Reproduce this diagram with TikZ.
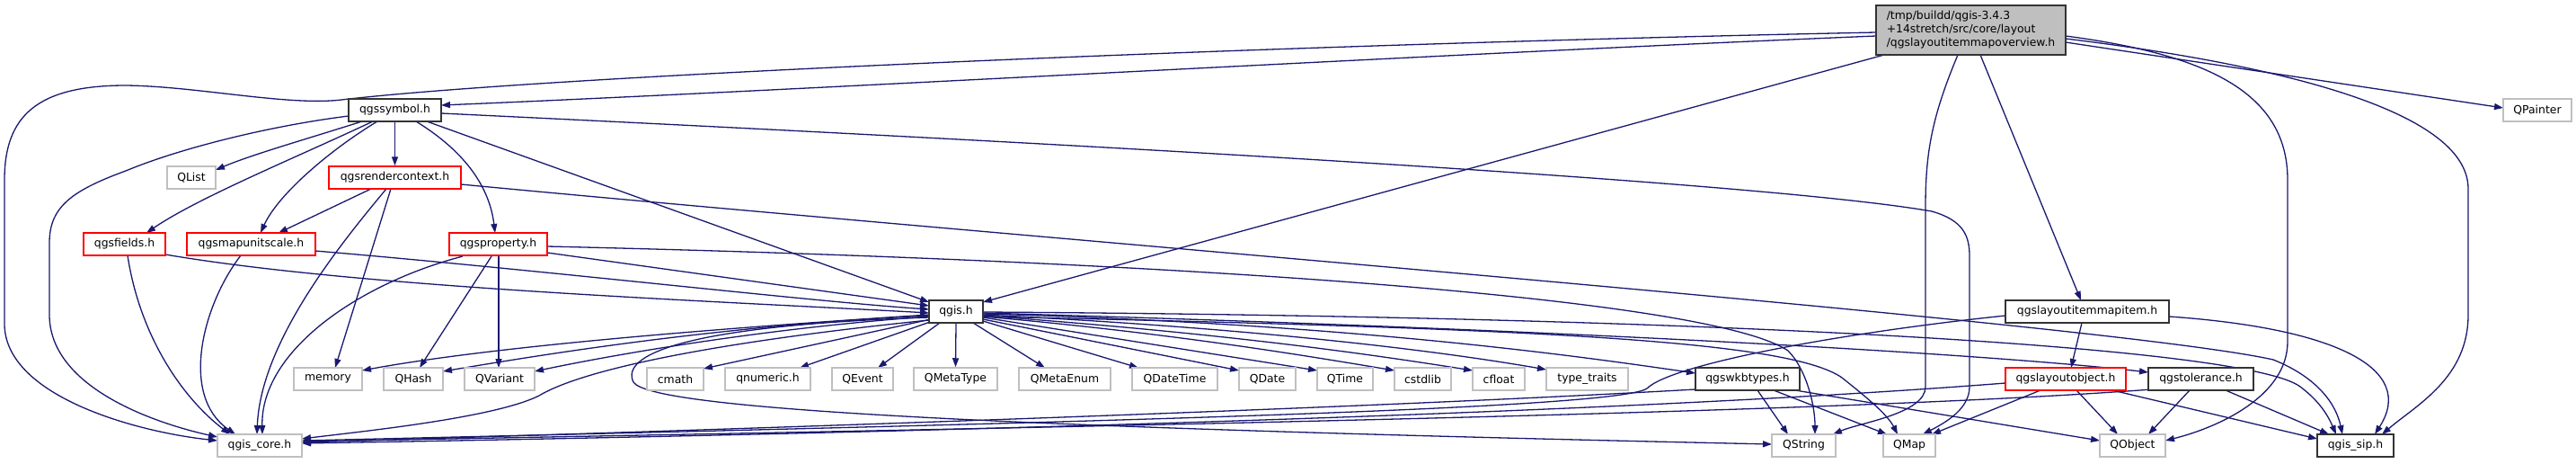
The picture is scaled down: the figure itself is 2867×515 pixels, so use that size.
\documentclass[tikz,border=0pt]{standalone}
\usepackage{fontspec}
\setmainfont{DejaVu Sans}
\usetikzlibrary{arrows.meta,calc,backgrounds}
\definecolor{edgec}{HTML}{191970}
\definecolor{gry}{HTML}{BFBFBF}
\newcommand\nodefont{\fontsize{12.4}{15}\selectfont}
\begin{document}
\begin{tikzpicture}[x=1pt,y=-1pt,
  nd/.style={fill=white, inner sep=0pt, minimum height=25pt, font=\nodefont, text=black},
  doc/.style={nd, draw=black!80, line width=1.8pt},
  ext/.style={nd, draw=gry, line width=1.5pt},
  trunc/.style={nd, draw=red, line width=1.5pt},
  dep/.style={draw=edgec, line width=1.3pt, -{Triangle[length=10pt,width=7pt]}}]
\useasboundingbox (0,0) rectangle (2867,515);
% nodes
\node[nd, draw=black!80, line width=1.8pt, fill=gry, minimum width=211pt, minimum height=55pt, align=left] (main) at (2193.5,33.5) {/tmp/buildd/qgis-3.4.3\\+14stretch/src/core/layout\\/qgslayoutitemmapoverview.h};
\node[ext, minimum width=76pt] (QPainter) at (2824,122.5) {QPainter};
\node[doc, minimum width=103pt] (sym) at (439.5,122.5) {qgssymbol.h};
\node[ext, minimum width=54pt] (QList) at (213,197.5) {QList};
\node[trunc, minimum width=147pt] (rc) at (439.5,197.5) {qgsrendercontext.h};
\node[trunc, minimum width=91pt] (fields) at (138.5,271.5) {qgsfields.h};
\node[trunc, minimum width=143pt] (mus) at (279.5,271.5) {qgsmapunitscale.h};
\node[trunc, minimum width=109pt] (prop) at (554.5,271.5) {qgsproperty.h};
\node[doc, minimum width=60pt] (qgis) at (1064,346.5) {qgis.h};
\node[doc, minimum width=182pt] (lmi) at (2323,346.5) {qgslayoutitemmapitem.h};
\node[ext, minimum width=76pt] (memory) at (365,421.5) {memory};
\node[ext, minimum width=66pt] (QHash) at (460,421.5) {QHash};
\node[ext, minimum width=78pt] (QVariant) at (556,421.5) {QVariant};
\node[ext, minimum width=63pt] (cmath) at (751.5,421.5) {cmath};
\node[ext, minimum width=95pt] (qnumeric) at (854.5,421.5) {qnumeric.h};
\node[ext, minimum width=68pt] (QEvent) at (960,421.5) {QEvent};
\node[ext, minimum width=93pt] (QMetaType) at (1063.5,421.5) {QMetaType};
\node[ext, minimum width=102pt] (QMetaEnum) at (1185,421.5) {QMetaEnum};
\node[ext, minimum width=95pt] (QDateTime) at (1307.5,421.5) {QDateTime};
\node[ext, minimum width=63pt] (QDate) at (1410.5,421.5) {QDate};
\node[ext, minimum width=62pt] (QTime) at (1497,421.5) {QTime};
\node[ext, minimum width=63pt] (cstdlib) at (1583.5,421.5) {cstdlib};
\node[ext, minimum width=58pt] (cfloat) at (1668,421.5) {cfloat};
\node[ext, minimum width=91pt] (tt) at (1766.5,421.5) {type\_traits};
\node[doc, minimum width=116pt] (wkb) at (1945,421.5) {qgswkbtypes.h};
\node[trunc, minimum width=134pt] (lo) at (2299,421.5) {qgslayoutobject.h};
\node[doc, minimum width=117pt] (tol) at (2449.5,421.5) {qgstolerance.h};
\node[ext, minimum width=94pt] (core) at (289,495.5) {qgis\_core.h};
\node[ext, minimum width=71pt] (QString) at (2007.5,495.5) {QString};
\node[ext, minimum width=58pt] (QMap) at (2125,495.5) {QMap};
\node[ext, minimum width=73pt] (QObject) at (2373.5,495.5) {QObject};
\node[doc, minimum width=85pt] (sip) at (2621.5,495.5) {qgis\_sip.h};
% edges
\begin{scope}[on background layer]
\fill[white] (0,0) rectangle (2867,515);
% main
\draw[dep] ($(main)+(-105.5,6.5)$) .. controls (1600,60) and (900,100) .. ($(sym)+(51.5,-5.5)$);
\draw[dep] ($(main)+(-105.5,2.5)$) .. controls (1400,50) and (600,85) .. (380,111) .. controls (320,118) and (220,96) .. (140,95) .. controls (40,95) and (5,130) .. (5,200) -- (5,360) .. controls (5,440) and (150,480) .. ($(core)+(-47,-5.5)$);
\draw[dep] ($(main)+(-96.5,27.5)$) -- ($(qgis)+(30,-10.5)$);
\draw[dep] ($(main)+(10.5,27.5)$) -- ($(lmi)+(-7,-12.5)$);
\draw[dep] ($(main)+(-14.5,27.5)$) .. controls (2150,130) and (2143,170) .. (2143,230) -- (2143,430) .. controls (2143,460) and (2070,470) .. ($(QString)+(32.5,-12.5)$);
\draw[dep] ($(main)+(105.5,6.5)$) .. controls (2450,60) and (2546,100) .. (2546,200) -- (2546,380) .. controls (2546,440) and (2470,475) .. ($(QObject)+(36.5,-5.5)$);
\draw[dep] ($(main)+(105.5,9.5)$) .. controls (2520,70) and (2747,120) .. (2747,210) -- (2747,350) .. controls (2747,420) and (2690,450) .. ($(sip)+(29.5,-12.5)$);
\draw[dep] ($(main)+(105.5,13.5)$) -- ($(QPainter)+(-38,-2.5)$);
% qgssymbol
\draw[dep] ($(sym)+(-36.5,12.5)$) .. controls (340,155) and (280,172) .. ($(QList)+(27,-8.5)$);
\draw[dep] (sym.south) -- (rc.north);
\draw[dep] ($(sym)+(-24.5,12.5)$) .. controls (330,175) and (220,220) .. ($(fields)+(24.5,-12.5)$);
\draw[dep] ($(sym)+(-19.5,12.5)$) .. controls (370,165) and (310,215) .. ($(mus)+(10.5,-12.5)$);
\draw[dep] ($(sym)+(23.5,12.5)$) .. controls (520,170) and (545,210) .. ($(prop)+(-3.5,-12.5)$);
\draw[dep] ($(sym)+(35.5,12.5)$) -- ($(qgis)+(-30,-10.5)$);
\draw[dep] ($(sym)+(-51.5,6.5)$) .. controls (300,140) and (200,165) .. (140,190) .. controls (80,212) and (55,230) .. (55,270) -- (55,350) .. controls (55,430) and (170,470) .. ($(core)+(-47,-9.5)$);
\draw[dep] ($(sym)+(51.5,3.5)$) .. controls (1100,155) and (1950,200) .. (2150,235) .. controls (2185,245) and (2192,262) .. (2192,285) -- (2192,430) .. controls (2192,455) and (2165,470) .. ($(QMap)+(15,-12.5)$);
% qgsrendercontext
\draw[dep] ($(rc)+(-26.5,12.5)$) -- ($(mus)+(30.5,-12.5)$);
\draw[dep] ($(rc)+(-9.5,12.5)$) .. controls (380,270) and (290,380) .. ($(core)+(-3,-12.5)$);
\draw[dep] ($(rc)+(-4.5,12.5)$) -- ($(memory)+(8,-12.5)$);
\draw[dep] ($(rc)+(73.5,7.5)$) .. controls (1200,270) and (2350,360) .. (2530,400) .. controls (2580,420) and (2600,450) .. ($(sip)+(-14.5,-12.5)$);
% qgsfields
\draw[dep] ($(fields)+(3.5,12.5)$) .. controls (155,370) and (200,440) .. ($(core)+(-33,-12.5)$);
\draw[dep] ($(fields)+(45.5,11.5)$) .. controls (400,320) and (800,335) .. ($(qgis)+(-30,1.5)$);
% qgsmapunitscale
\draw[dep] ($(mus)+(-11.5,12.5)$) .. controls (225,340) and (200,440) .. ($(core)+(-27,-12.5)$);
\draw[dep] ($(mus)+(71.5,7.5)$) .. controls (600,300) and (900,335) .. ($(qgis)+(-30,-2.5)$);
% qgsproperty
\draw[dep] ($(prop)+(54.5,9.5)$) -- ($(qgis)+(-30,-6.5)$);
\draw[dep] ($(prop)+(-39.5,13.5)$) .. controls (400,315) and (290,390) .. ($(core)+(3,-12.5)$);
\draw[dep] ($(prop)+(-7.5,13.5)$) -- ($(QHash)+(7,-12.5)$);
\draw[dep] ($(prop)+(0.5,13.5)$) -- ($(QVariant)+(-1,-12.5)$);
\draw[dep] ($(prop)+(54.5,2.5)$) .. controls (1300,290) and (1900,330) .. (1990,390) .. controls (2010,410) and (2020,450) .. ($(QString)+(12.5,-12.5)$);
% qgis.h
\draw[dep] ($(qgis)+(-30,3.5)$) .. controls (800,365) and (550,385) .. ($(memory)+(38,-9.5)$);
\draw[dep] ($(qgis)+(-30,4.5)$) .. controls (800,362) and (600,395) .. ($(QHash)+(33,-8.5)$);
\draw[dep] ($(qgis)+(-30,5.5)$) .. controls (850,365) and (680,395) .. ($(QVariant)+(39,-8.5)$);
\draw[dep] ($(qgis)+(-28,8.5)$) -- ($(cmath)+(31.5,-11.5)$);
\draw[dep] ($(qgis)+(-26,10.5)$) -- ($(qnumeric)+(35.5,-12.5)$);
\draw[dep] ($(qgis)+(-18,12.5)$) -- ($(QEvent)+(17,-12.5)$);
\draw[dep] (qgis.south) -- (QMetaType.north);
\draw[dep] ($(qgis)+(19,12.5)$) -- ($(QMetaEnum)+(-22,-12.5)$);
\draw[dep] ($(qgis)+(30,10.5)$) -- ($(QDateTime)+(-40.5,-12.5)$);
\draw[dep] ($(qgis)+(30,8.5)$) -- ($(QDate)+(-31.5,-9.5)$);
\draw[dep] ($(qgis)+(30,6.5)$) -- ($(QTime)+(-31,-9.5)$);
\draw[dep] ($(qgis)+(30,5.5)$) .. controls (1300,370) and (1450,395) .. ($(cstdlib)+(-31.5,-9.5)$);
\draw[dep] ($(qgis)+(30,4.5)$) .. controls (1350,370) and (1500,390) .. ($(cfloat)+(-29,-9.5)$);
\draw[dep] ($(qgis)+(30,3.5)$) .. controls (1400,365) and (1600,390) .. ($(tt)+(-45.5,-10.5)$);
\draw[dep] ($(qgis)+(30,2.5)$) .. controls (1500,360) and (1750,395) .. ($(wkb)+(-58,-6.5)$);
\draw[dep] ($(qgis)+(30,1.5)$) .. controls (1700,365) and (2200,392) .. ($(tol)+(-58.5,-7.5)$);
\draw[dep] ($(qgis)+(30,0.5)$) .. controls (1900,352) and (2500,385) .. (2560,430) .. controls (2580,445) and (2590,460) .. ($(sip)+(-21.5,-12.5)$);
\draw[dep] ($(qgis)+(30,5.5)$) .. controls (1700,365) and (1990,378) .. (2050,420) .. controls (2075,440) and (2100,460) .. ($(QMap)+(-13,-12.5)$);
\draw[dep] ($(qgis)+(-30,6.5)$) .. controls (760,362) and (690,395) .. (705,425) .. controls (725,455) and (1100,475) .. ($(QString)+(-35.5,-1.5)$);
\draw[dep] ($(qgis)+(-30,9.5)$) .. controls (800,380) and (650,410) .. (600,440) .. controls (550,465) and (400,480) .. ($(core)+(47,-7.5)$);
% qgslayoutitemmapitem
\draw[dep] ($(lmi)+(-6,12.5)$) -- ($(lo)+(6,-12.5)$);
\draw[dep] ($(lmi)+(-91,4.5)$) .. controls (2050,370) and (1860,405) .. (1833,432) .. controls (1800,455) and (1200,470) .. ($(core)+(47,-5.5)$);
\draw[dep] ($(lmi)+(91,5.5)$) .. controls (2600,365) and (2690,410) .. ($(sip)+(21.5,-12.5)$);
% qgslayoutobject
\draw[dep] ($(lo)+(-67,4.5)$) .. controls (1800,460) and (1000,482) .. ($(core)+(47,-2.5)$);
\draw[dep] ($(lo)+(-28,12.5)$) -- ($(QMap)+(25,-12.5)$);
\draw[dep] ($(lo)+(12,12.5)$) -- ($(QObject)+(-16.5,-12.5)$);
\draw[dep] ($(lo)+(52,12.5)$) -- ($(sip)+(-42.5,-7.5)$);
% qgstolerance
\draw[dep] ($(tol)+(-54.5,11.5)$) .. controls (2100,455) and (1500,470) .. ($(core)+(47,-4.5)$);
\draw[dep] ($(tol)+(-12.5,12.5)$) -- ($(QObject)+(17.5,-12.5)$);
\draw[dep] ($(tol)+(27.5,12.5)$) -- ($(sip)+(-29.5,-12.5)$);
% qgswkbtypes
\draw[dep] ($(wkb)+(-58,11.5)$) .. controls (1500,455) and (800,478) .. ($(core)+(47,-3.5)$);
\draw[dep] ($(wkb)+(11,12.5)$) -- ($(QString)+(-17.5,-12.5)$);
\draw[dep] ($(wkb)+(29,12.5)$) -- ($(QMap)+(-25,-12.5)$);
\draw[dep] ($(wkb)+(53,12.5)$) -- ($(QObject)+(-36.5,-5.5)$);
\end{scope}
\end{tikzpicture}
\end{document}
